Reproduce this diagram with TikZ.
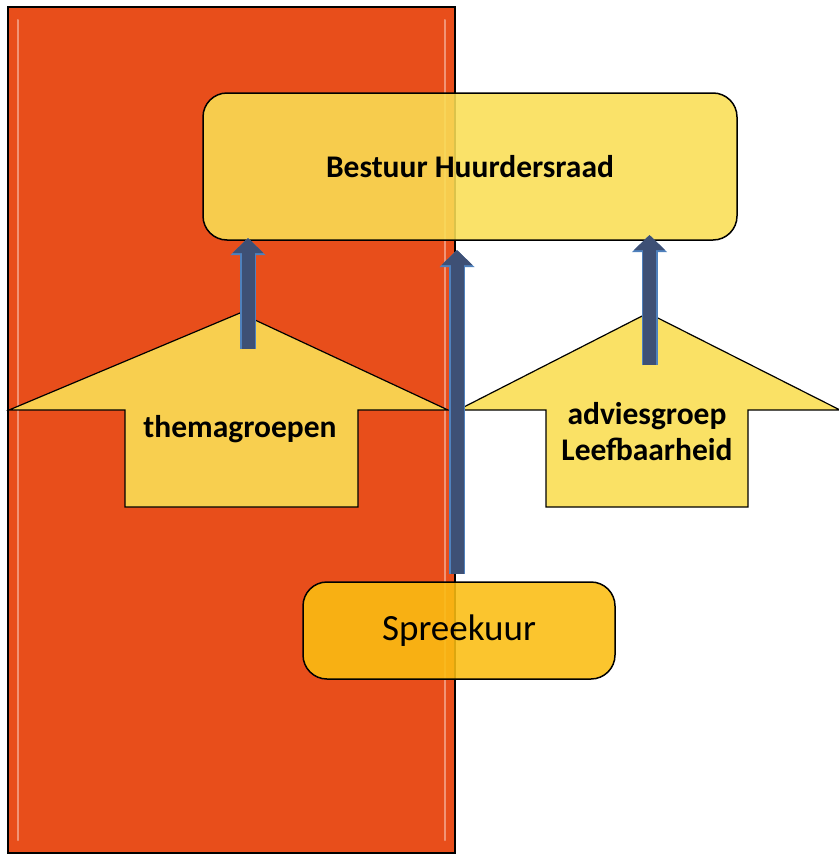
\documentclass[tikz,border=0pt]{standalone}
\usepackage{fontspec}
\setmainfont{Carlito}
\usetikzlibrary{arrows.meta}
\definecolor{orng}{HTML}{E84E1B}
\definecolor{yel}{HTML}{FADE55}
\definecolor{spr}{HTML}{FBBE12}
\definecolor{blu}{HTML}{3E5075}
\definecolor{bluedge}{HTML}{4F81BD}
\tikzset{
  panel/.style={draw=black, line width=1.5pt, fill=orng},
  yshape/.style={draw=black, line width=1.2pt, fill=yel, fill opacity=0.9},
  roundbox/.style={draw=black, line width=1.5pt, fill=#1, fill opacity=0.88, text opacity=1, rounded corners=24pt, inner sep=0pt},
  boldlbl/.style={font=\fontsize{31.5}{36}\selectfont\bfseries, inner sep=0pt, align=center},
  plainlbl/.style={font=\fontsize{37}{40}\selectfont},
  bluout/.style={draw=bluedge, line width=16pt, -{Triangle[width=34pt,length=17pt]}},
  bluin/.style={draw=blu, line width=13pt, -{Triangle[width=30pt,length=15pt]}},
  shine/.style={draw=white, line width=2pt, opacity=0.4, line cap=round}
}
\begin{document}
\begin{tikzpicture}[x=1pt,y=-1pt]
\useasboundingbox (0,0) rectangle (838,854);
\fill[white] (0,0) rectangle (838,854);
% orange panel
\draw[panel] (8,7) rectangle (455,853);
\draw[shine] (18,20) -- (18,840);
\draw[shine] (445,20) -- (445,840);
% arrow shapes
\draw[yshape] (240,313) -- (448,410) -- (358,410) -- (358,507) -- (125,507) -- (125,410) -- (9,410) -- cycle;
\draw[yshape] (648,313) -- (840,410) -- (748,410) -- (748,507) -- (546,507) -- (546,410) -- (458,410) -- cycle;
\node[boldlbl, anchor=base] (them) at (240,437) {themagroepen};
\node[boldlbl, anchor=base] (advies) at (647,460) {adviesgroep\\Leefbaarheid};
% boxes
\node[roundbox=yel, minimum width=534pt, minimum height=147pt, boldlbl] (bestuur) at (470,166.5) {Bestuur Huurdersraad};
\node[roundbox=spr, minimum width=312pt, minimum height=97pt, plainlbl] (spreek) at (459,630.5) {Spreekuur};
% blue connectors
\coordinate (a1) at (248,349);
\coordinate (a2) at (248,238);
\coordinate (b1) at (457,574);
\coordinate (b2) at (457,250);
\coordinate (c1) at (649.5,365);
\coordinate (c2) at (649.5,235);
\foreach \s/\e in {a1/a2, b1/b2, c1/c2}{
  \draw[bluout] (\s) -- (\e);
  \draw[bluin] (\s) -- (\e);
}
\end{tikzpicture}
\end{document}
